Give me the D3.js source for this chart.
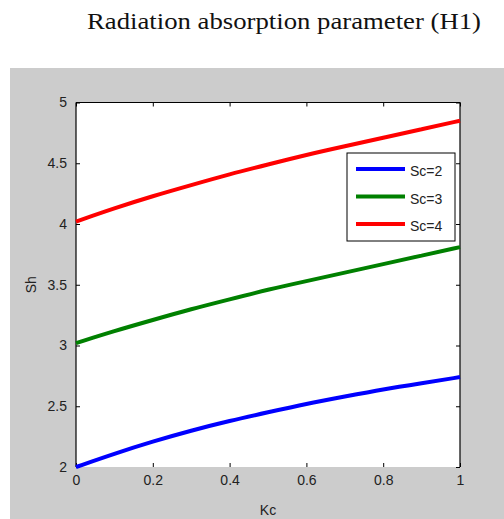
<!DOCTYPE html>
<html>
<head>
<meta charset="utf-8">
<script src="https://cdn.jsdelivr.net/npm/d3@7"></script>
<style>
  body { margin: 0; background: #fff; }
  svg text { font-family: "Liberation Sans", Arial, sans-serif; fill: #222; }
</style>
</head>
<body>
<svg id="chart" width="504" height="519"></svg>
<script>
// Kc values along x
const kc = [0, 0.1, 0.2, 0.3, 0.4, 0.5, 0.6, 0.7, 0.8, 0.9, 1];
// Sh for each Schmidt number
const shSc2 = [2.00, 2.11, 2.21, 2.30, 2.38, 2.45, 2.52, 2.58, 2.64, 2.69, 2.74];
const shSc3 = [3.02, 3.12, 3.21, 3.30, 3.38, 3.46, 3.53, 3.60, 3.67, 3.74, 3.81];
const shSc4 = [4.02, 4.13, 4.23, 4.32, 4.41, 4.49, 4.57, 4.64, 4.71, 4.78, 4.85];
const seriesNames = ['Sc=2', 'Sc=3', 'Sc=4'];
const seriesColours = ['#0000ff', '#008000', '#ff0000'];
const xTicks = [0, 0.2, 0.4, 0.6, 0.8, 1];
const yTicks = [2, 2.5, 3, 3.5, 4, 4.5, 5];

const svg = d3.select('#chart');

// title above the figure
svg.append('text')
  .attr('x', 87).attr('y', 29)
  .attr('textLength', 394)
  .attr('lengthAdjust', 'spacingAndGlyphs')
  .style('font-family', '"Liberation Serif", "Times New Roman", serif')
  .style('font-size', '23.5px')
  .style('fill', '#111')
  .text('Radiation absorption parameter (H1)');

// matlab grey figure
svg.append('rect')
  .attr('x', 10).attr('y', 68)
  .attr('width', 494).attr('height', 451)
  .attr('fill', '#cccccc');

const x = d3.scaleLinear().domain([0, 1]).range([76, 460]);
const y = d3.scaleLinear().domain([2, 5]).range([467, 102.5]);

svg.append('rect')
  .attr('x', x(0)).attr('y', y(5))
  .attr('width', x(1) - x(0)).attr('height', y(2) - y(5))
  .attr('fill', '#fff');

// axes, ticks pointing inwards
const tickLen = 4;
const axisBottom = svg.append('g').attr('transform', `translate(0,${y(2)})`)
  .call(d3.axisBottom(x).tickValues(xTicks).tickSize(-tickLen).tickPadding(8)
    .tickFormat(d3.format('')));
axisBottom.select('.domain').remove();

const axisTop = svg.append('g').attr('transform', `translate(0,${y(5)})`)
  .call(d3.axisTop(x).tickValues(xTicks).tickSize(-tickLen).tickFormat(''));
axisTop.select('.domain').attr('d', `M${x(0)},0H${x(1)}`);

const axisLeft = svg.append('g').attr('transform', `translate(${x(0)},0)`)
  .call(d3.axisLeft(y).tickValues(yTicks).tickSize(-tickLen).tickPadding(9)
    .tickFormat(d3.format('')));
axisLeft.select('.domain').attr('d', `M0,${y(2)}V${y(5)}`);

const axisRight = svg.append('g').attr('transform', `translate(${x(1)},0)`)
  .call(d3.axisRight(y).tickValues(yTicks).tickSize(-tickLen).tickFormat(''));
axisRight.select('.domain').attr('d', `M0,${y(2)}V${y(5)}`);

svg.selectAll('.domain').attr('stroke', '#000').attr('stroke-width', 1.2);
svg.selectAll('.tick line').attr('stroke', '#000');
svg.selectAll('.tick text').style('font-size', '14px').style('fill', '#222')
  .style('font-family', '"Liberation Sans", Arial, sans-serif');

// axis labels
svg.append('text')
  .attr('x', x(0.5)).attr('y', 515)
  .attr('text-anchor', 'middle')
  .style('font-size', '14px')
  .text('Kc');

svg.append('text')
  .attr('transform', `translate(36,${y(3.5)}) rotate(-90)`)
  .attr('text-anchor', 'middle')
  .style('font-size', '14px')
  .text('Sh');

// curves
const allSeries = [shSc2, shSc3, shSc4];
const line = d3.line()
  .x((d, i) => x(kc[i]))
  .y(d => y(d))
  .curve(d3.curveBasis);

svg.append('g').selectAll('path.curve')
  .data(allSeries)
  .join('path')
  .attr('class', 'curve')
  .attr('fill', 'none')
  .attr('stroke', (d, i) => seriesColours[i])
  .attr('stroke-width', 4)
  .attr('d', line);

// legend
const legend = svg.append('g').attr('transform', 'translate(347,153)');
legend.append('rect')
  .attr('width', 108).attr('height', 88)
  .attr('fill', '#fff').attr('stroke', '#000').attr('stroke-width', 1);

const rows = legend.selectAll('g.row')
  .data(seriesNames)
  .join('g')
  .attr('class', 'row')
  .attr('transform', (d, i) => `translate(0,${16 + i * 27.5})`);

rows.append('line')
  .attr('x1', 9).attr('x2', 58)
  .attr('stroke', (d, i) => seriesColours[i])
  .attr('stroke-width', 4);

rows.append('text')
  .attr('x', 63).attr('y', 7)
  .style('font-size', '14px')
  .text(d => d);
</script>
</body>
</html>
